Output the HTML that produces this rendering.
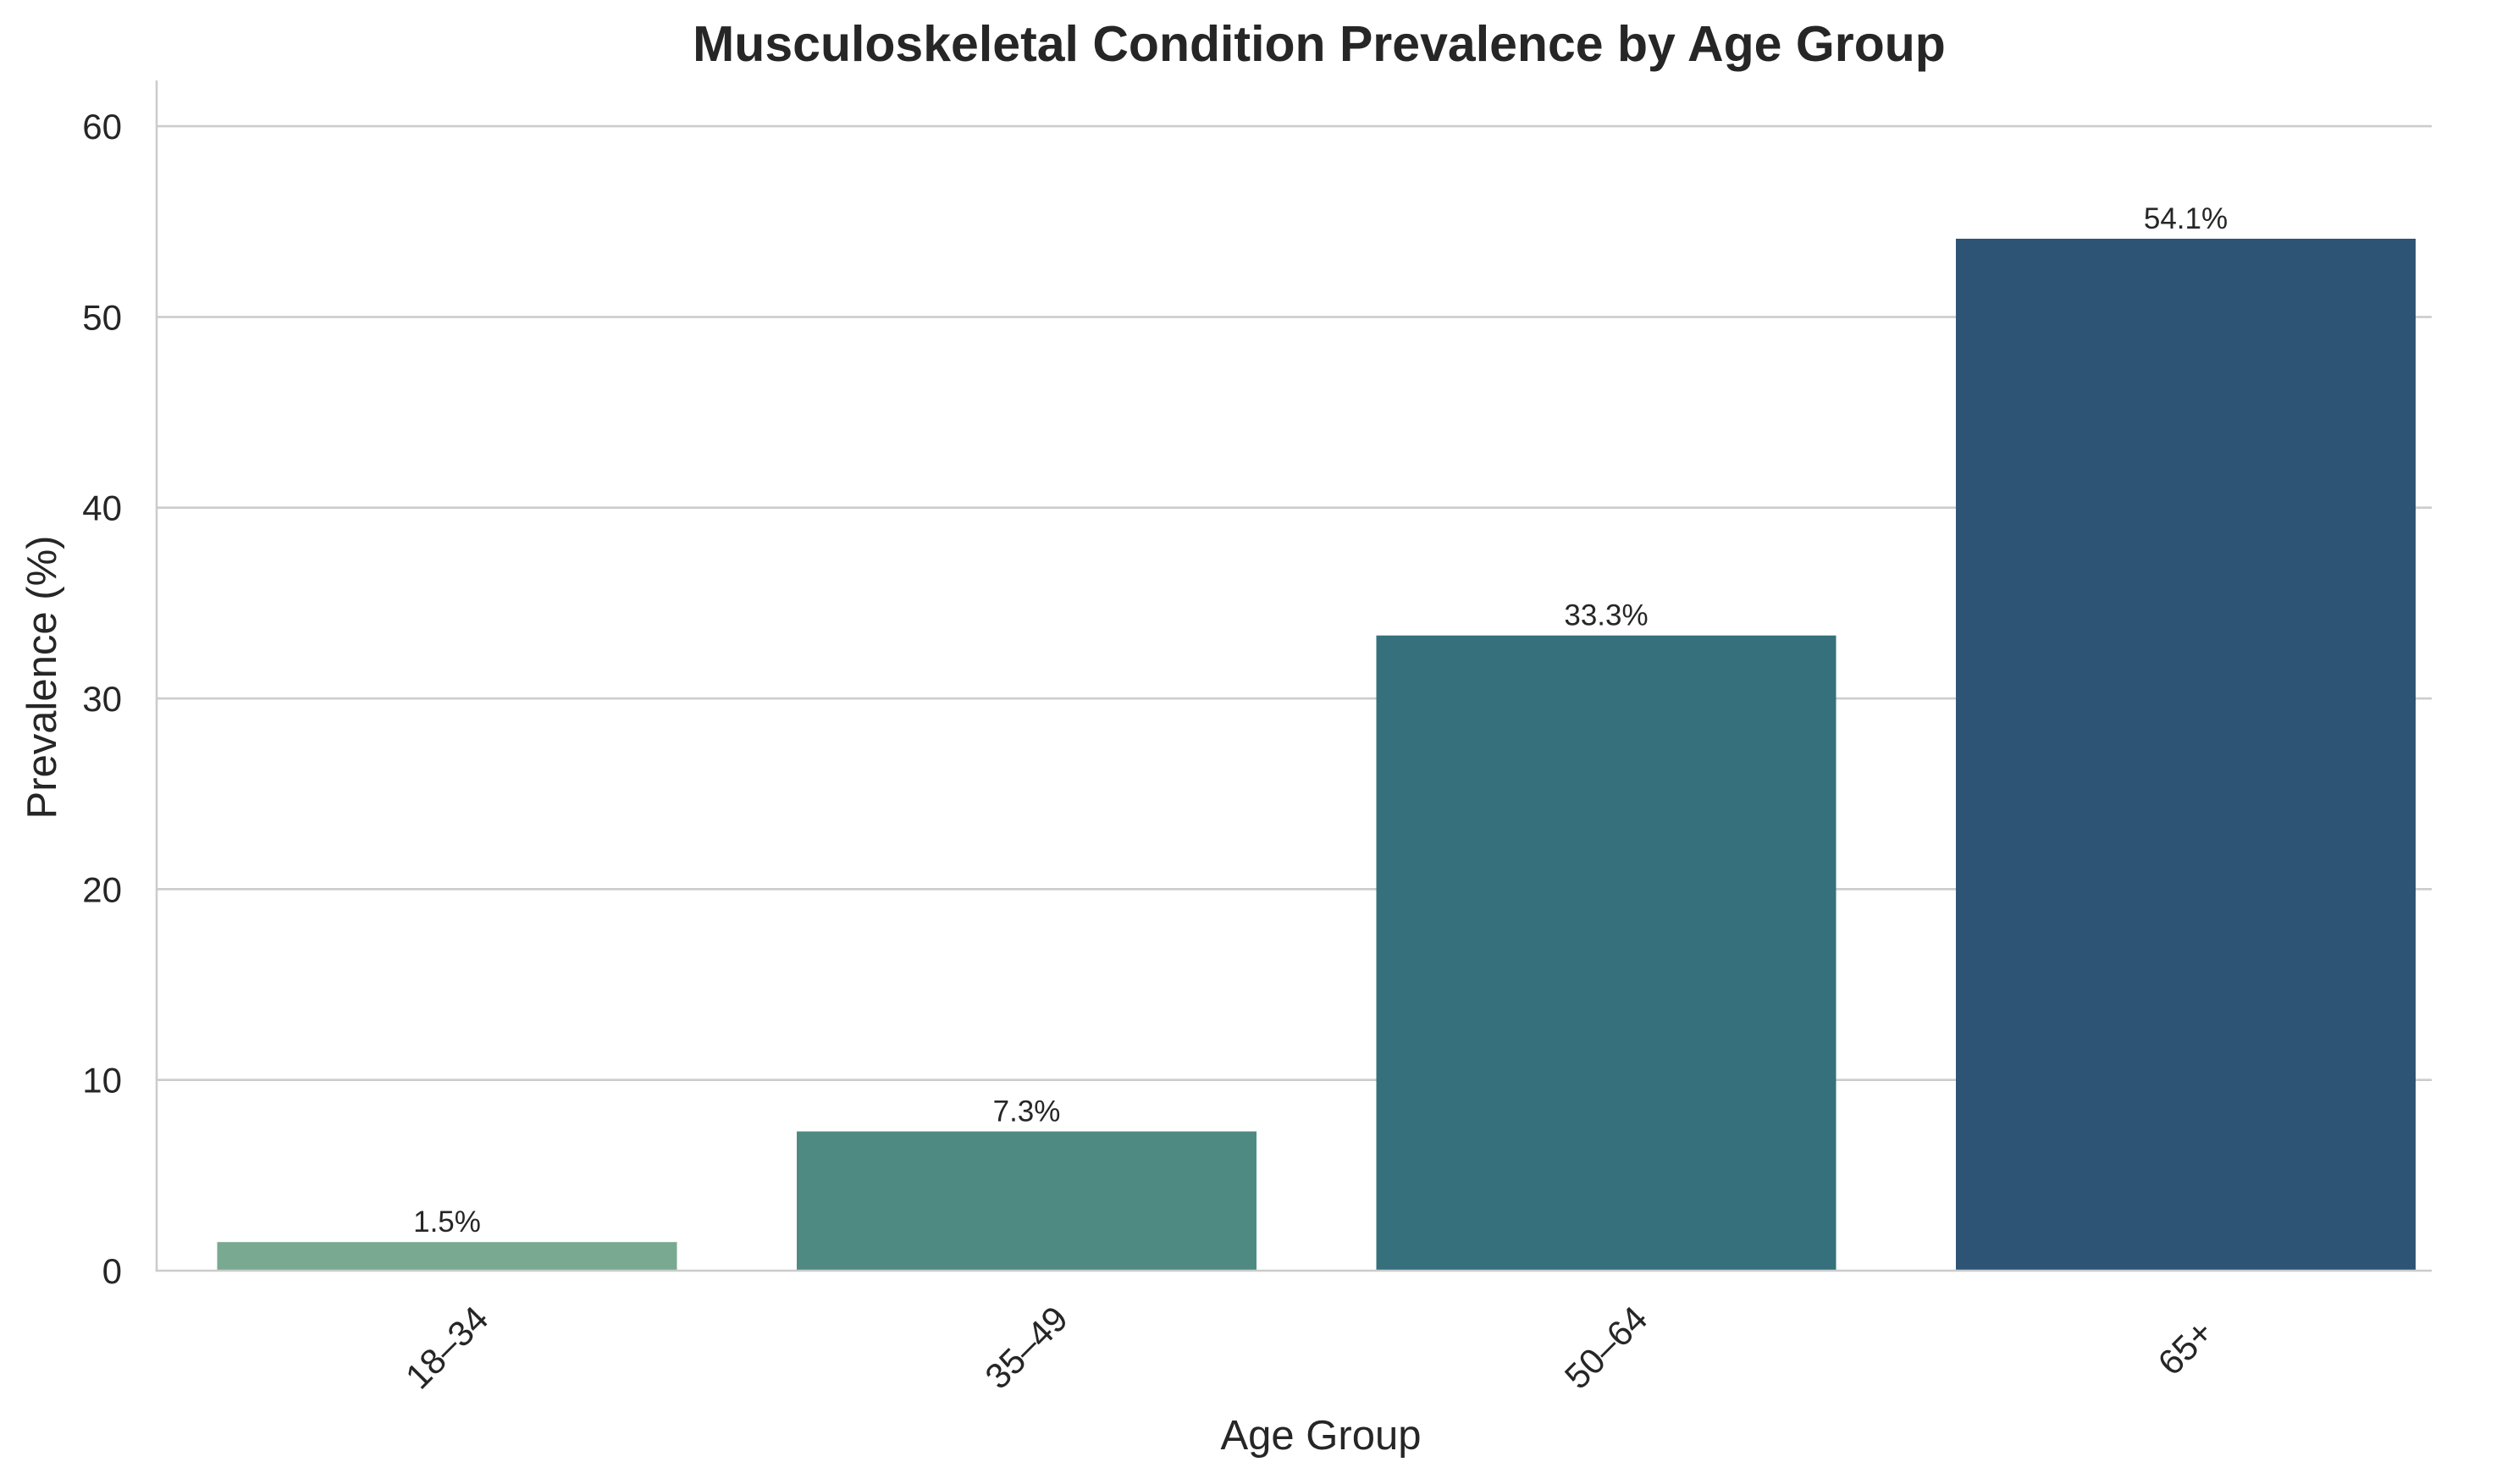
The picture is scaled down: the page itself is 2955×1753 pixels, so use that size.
<!DOCTYPE html>
<html><head><meta charset="utf-8"><style>
html,body{margin:0;padding:0;background:#fff;}
svg{display:block;font-family:"Liberation Sans",Arial,sans-serif;}
</style></head><body>
<svg id="chart" width="2955" height="1753" viewBox="0 0 2955 1753">
<text x="1558" y="72" text-anchor="middle" font-size="59" font-weight="bold" fill="#262626">Musculoskeletal Condition Prevalence by Age Group</text>
<g id="grid"></g><g id="bars"></g><g id="axes"></g>
<text x="1560" y="1712" text-anchor="middle" font-size="49" fill="#262626">Age Group</text>
<text transform="translate(66,800) rotate(-90)" text-anchor="middle" font-size="49" fill="#262626">Prevalence (%)</text>
</svg>
<script>
const categories = ["18–34","35–49","50–64","65+"];
const values = [1.5, 7.3, 33.3, 54.1];
const valueLabels = ["1.5%","7.3%","33.3%","54.1%"];
const yTicks = [0,10,20,30,40,50,60];
const colors = ["#7aa991","#4f8a82","#35707c","#2e5475"];
const L=185,R=2872,T=95,B=1501,YMAX=62.4;
const X0=528,STEP=684.5,BW=543;
const NS="http://www.w3.org/2000/svg";
function y(v){return B-(v/YMAX)*(B-T);}
function xc(i){return X0+i*STEP;}
function mk(tag,a,parent,txt){const e=document.createElementNS(NS,tag);for(const k in a)e.setAttribute(k,a[k]);if(txt!==undefined)e.textContent=txt;document.getElementById(parent).appendChild(e);return e;}
yTicks.forEach(t=>{
  if(t>0){const g=mk('line',{x1:L,x2:R,y1:y(t),y2:y(t),stroke:'#cccccc','stroke-width':2.6},'grid');
  
  }
  const tl=mk('text',{x:144,y:y(t)+15,'text-anchor':'end','font-size':42,fill:'#262626'},'axes',String(t));
  
  
});
categories.forEach((c,i)=>{
  const r=mk('rect',{x:xc(i)-BW/2,y:y(values[i]),width:BW,height:B-y(values[i]),fill:colors[i]},'bars');
  
  
  const v=mk('text',{x:xc(i),y:y(values[i])-12,'text-anchor':'middle','font-size':35,fill:'#262626'},'bars',valueLabels[i]);
  
  
  const cy=1592;
  const tl=mk('text',{x:xc(i),y:cy+14,'text-anchor':'middle','font-size':42,fill:'#262626',transform:`rotate(-45 ${xc(i)} ${cy})`},'axes',c);
  
  
});
const ls=mk('line',{x1:L,x2:L,y1:T,y2:B+1.3,stroke:'#cccccc','stroke-width':2.6},'axes');


const bs=mk('line',{x1:L-1.3,x2:R,y1:B,y2:B,stroke:'#cccccc','stroke-width':2.6},'axes');


</script>
</body></html>
